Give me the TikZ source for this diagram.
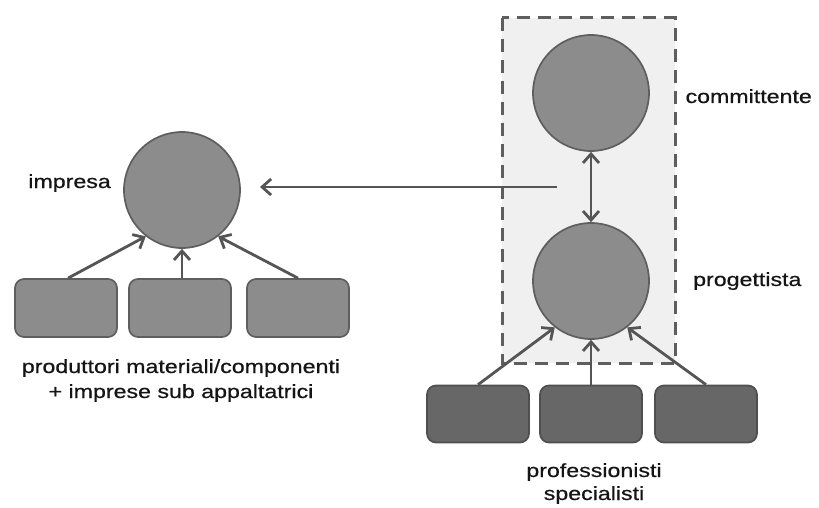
\documentclass[tikz,border=0pt]{standalone}
\usepackage{fontspec}
\setmainfont{Liberation Sans}[FakeStretch=1.22, FakeBold=0.6]
\usetikzlibrary{arrows.meta}
\definecolor{nodefill}{HTML}{8C8C8C}
\definecolor{nodeline}{HTML}{5E5E5E}
\definecolor{darkbox}{HTML}{676767}
\definecolor{darkline}{HTML}{4F4F4F}
\definecolor{arrowcol}{HTML}{555555}
\definecolor{groupfill}{HTML}{F0F0F0}
\definecolor{textcol}{HTML}{151515}
\tikzset{
  actor/.style={circle, draw=nodeline, fill=nodefill, line width=1.7pt, minimum size=116pt, inner sep=0pt},
  supplier/.style={rounded corners=9pt, draw=nodeline, fill=nodefill, line width=1.7pt, minimum width=102pt, minimum height=58pt, inner sep=0pt},
  expert/.style={rounded corners=9pt, draw=darkline, fill=darkbox, line width=1.7pt, minimum width=102pt, minimum height=57pt, inner sep=0pt},
  flow/.style={draw=arrowcol, line width=2.8pt, -{Straight Barb[length=9pt, width=16pt]}},
  twoway/.style={draw=arrowcol, line width=2.8pt, {Straight Barb[length=9pt, width=16pt]}-{Straight Barb[length=9pt, width=16pt]}},
  caption/.style={text=textcol, font=\fontsize{19}{25}\selectfont, inner sep=0pt, align=center},
  group/.style={draw=nodeline, fill=groupfill, line width=3pt, dash pattern=on 13pt off 8pt}
}
\begin{document}
\begin{tikzpicture}[x=1pt, y=-1pt]
  \useasboundingbox (0,0) rectangle (819,508);
  \fill[white] (0,0) rectangle (819,508);

  % design group: client + designer
  \draw[group] (502,18) rectangle (675,363);

  % main actors
  \node[actor] (impresa) at (182,190) {};
  \node[actor] (committente) at (591,93) {};
  \node[actor] (progettista) at (591,281) {};

  % suppliers of the contractor
  \node[supplier] (s1) at (66,308) {};
  \node[supplier] (s2) at (180,308) {};
  \node[supplier] (s3) at (298,308) {};

  % specialist consultants of the designer
  \node[expert] (e1) at (478,414) {};
  \node[expert] (e2) at (591,414) {};
  \node[expert] (e3) at (706,414) {};

  % labels
  \node[caption, anchor=base east] (limpresa) at (111,188) {impresa};
  \node[caption, anchor=base east] (lcommittente) at (812,103) {committente};
  \node[caption, anchor=base west] (lprogettista) at (693,286) {progettista};
  \node[caption, anchor=base] (lsupp1) at (181,373) {produttori materiali/componenti};
  \node[caption, anchor=base] (lsupp2) at (181,398) {+ imprese sub appaltatrici};
  \node[caption, anchor=base] (lexp1) at (594,477) {professionisti};
  \node[caption, anchor=base] (lexp2) at (594,500) {specialisti};

  % connectors
  \coordinate (handover) at (557,187);
  \coordinate (receive) at (260,187);
  \draw[flow] (handover) -- (receive);
  \draw[twoway] (committente) -- (progettista);

  \draw[flow] (s1.north -| 68,0) -- (impresa.-128);
  \draw[flow] (s2.north -| impresa.south) -- (impresa.south);
  \draw[flow] (s3.north) -- (impresa.-52);

  \draw[flow] (e1.north) -- (progettista.-128);
  \draw[flow] (e2.north) -- (progettista.south);
  \draw[flow] (e3.north) -- (progettista.-52);
\end{tikzpicture}
\end{document}
